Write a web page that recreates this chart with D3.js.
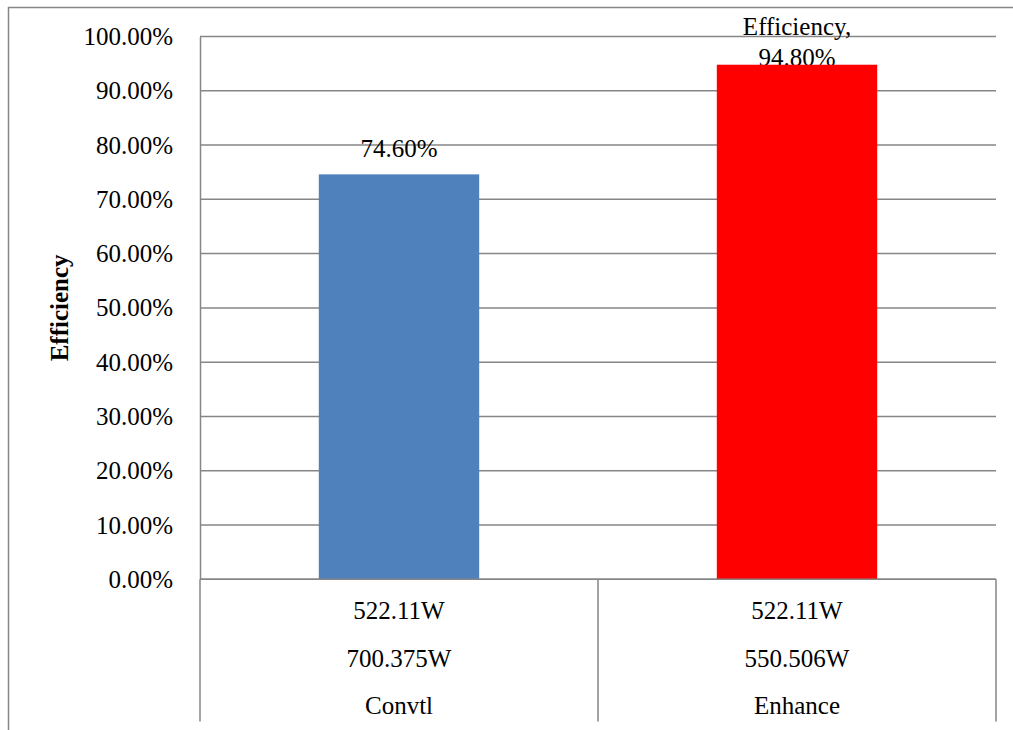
<!DOCTYPE html>
<html>
<head>
<meta charset="utf-8">
<script src="https://cdn.jsdelivr.net/npm/d3@7"></script>
<style>
  html, body { margin: 0; padding: 0; background: #fff; }
  svg { display: block; font-family: "Liberation Serif", "Times New Roman", serif; }
</style>
</head>
<body>
<svg id="chart" width="1013" height="730"></svg>
<script>
// Efficiency of the two configurations
const categories = ["Convtl", "Enhance"];
const outputPower = ["522.11W", "522.11W"];
const inputPower = ["700.375W", "550.506W"];
const efficiency = [0.746, 0.948];
const barColors = ["#4F81BD", "#FF0000"];
const valueLabels = [["74.60%"], ["Efficiency,", "94.80%"]];
const yTicks = [0, 0.1, 0.2, 0.3, 0.4, 0.5, 0.6, 0.7, 0.8, 0.9, 1.0];

const svg = d3.select("#chart");
const plot = { left: 200, right: 996, top: 36.5, bottom: 579.3 };
const gridColor = "#868686";

// outer chart frame (extends past the page)
svg.append("rect")
  .attr("x", 8.5).attr("y", 7.5)
  .attr("width", 1100).attr("height", 800)
  .attr("fill", "none").attr("stroke", gridColor).attr("stroke-width", 1.5);

const x = d3.scaleBand().domain(categories).range([plot.left, plot.right]).paddingInner(0).paddingOuter(0);
const y = d3.scaleLinear().domain([0, 1]).range([plot.bottom, plot.top]);

// horizontal gridlines
svg.append("g").selectAll("line").data(yTicks).join("line")
  .attr("x1", plot.left).attr("x2", plot.right)
  .attr("y1", d => y(d)).attr("y2", d => y(d))
  .attr("stroke", gridColor).attr("stroke-width", 1.5);

// value axis
const yAxis = d3.axisLeft(y).tickValues(yTicks).tickSize(0).tickPadding(27)
  .tickFormat(d => (d * 100).toFixed(2) + "%");
const gy = svg.append("g").attr("transform", `translate(${plot.left},0)`).call(yAxis);
gy.attr("font-family", "Liberation Serif");
gy.select(".domain").attr("stroke", gridColor).attr("stroke-width", 1.5);
gy.selectAll("text").attr("font-size", 25).attr("fill", "#000")
  .attr("font-family", "Liberation Serif");

// axis title
svg.append("text")
  .attr("transform", `translate(68,${(plot.top + plot.bottom) / 2}) rotate(-90)`)
  .attr("text-anchor", "middle")
  .attr("font-size", 25).attr("font-weight", "bold")
  .text("Efficiency");

// value labels (drawn before bars so bars sit on top)
categories.forEach((c, i) => {
  const lines = valueLabels[i];
  const cx = x(c) + x.bandwidth() / 2;
  const base = y(efficiency[i]) - 17;
  lines.forEach((t, j) => {
    svg.append("text")
      .attr("x", cx)
      .attr("y", base - (lines.length - 1 - j) * 31 + (lines.length > 1 ? 18 : 0))
      .attr("text-anchor", "middle")
      .attr("font-size", 25)
      .text(t);
  });
});

// bars
const barW = x.bandwidth() * 0.403;
svg.append("g").selectAll("rect").data(categories).join("rect")
  .attr("x", d => x(d) + x.bandwidth() / 2 - barW / 2)
  .attr("width", barW)
  .attr("y", (d, i) => y(efficiency[i]))
  .attr("height", (d, i) => plot.bottom - y(efficiency[i]))
  .attr("fill", (d, i) => barColors[i]);

// category axis baseline and table dividers
svg.append("line")
  .attr("x1", plot.left).attr("x2", plot.right)
  .attr("y1", plot.bottom).attr("y2", plot.bottom)
  .attr("stroke", gridColor).attr("stroke-width", 1.5);
const dividers = [plot.left].concat(categories.map(c => x(c) + x.bandwidth()));
svg.append("g").selectAll("line").data(dividers).join("line")
  .attr("x1", d => d).attr("x2", d => d)
  .attr("y1", plot.bottom).attr("y2", 721.5)
  .attr("stroke", gridColor).attr("stroke-width", 1.5);

// multi-level category labels
const rows = [outputPower, inputPower, categories];
const rowBase = [619, 667, 714];
rows.forEach((row, r) => {
  svg.append("g").selectAll("text").data(categories).join("text")
    .attr("x", d => x(d) + x.bandwidth() / 2)
    .attr("y", rowBase[r])
    .attr("text-anchor", "middle")
    .attr("font-size", 25)
    .text((d, i) => row[i]);
});
</script>
</body>
</html>
